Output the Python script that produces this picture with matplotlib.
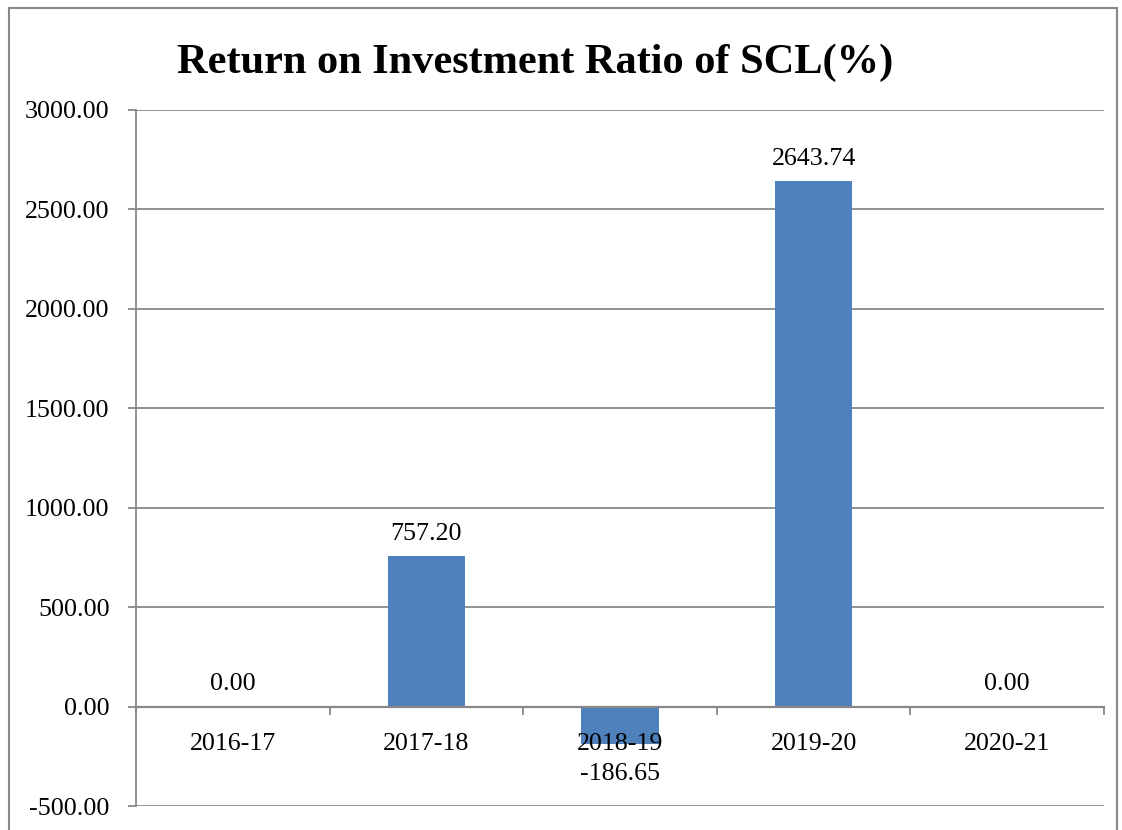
import matplotlib
matplotlib.use("Agg")
import matplotlib.pyplot as plt
from matplotlib.patches import Rectangle
from matplotlib.ticker import FixedLocator, NullFormatter

categories = ["2016-17", "2017-18", "2018-19", "2019-20", "2020-21"]
values = [0.00, 757.20, -186.65, 2643.74, 0.00]
labels = ["0.00", "757.20", "-186.65", "2643.74", "0.00"]
yticks = [-500, 0, 500, 1000, 1500, 2000, 2500, 3000]

plt.rcParams['font.family'] = ['Liberation Serif', 'DejaVu Serif']

W, H = 1122, 830
fig = plt.figure(figsize=(W / 100, H / 100), dpi=100)
ax = fig.add_axes([136 / W, 1 - 806 / H, (1104 - 136) / W, (806 - 110) / H])

gray = "#888888"
blue = "#4f81bd"

x = list(range(len(categories)))
ax.bar(x, values, width=0.4, color=blue, zorder=3)

ax.set_xlim(-0.5, len(categories) - 0.5)
ax.set_ylim(-500, 3000)
ax.set_yticks(yticks)
ax.set_yticklabels([f"{v:.2f}" for v in yticks], fontsize=18.7)
ax.yaxis.grid(True, color=gray, linewidth=1.3, zorder=0)
ax.tick_params(axis='y', length=6, width=1.3, color=gray, pad=13)

ax.spines['bottom'].set_position(('data', 0))
ax.spines['bottom'].set_color(gray)
ax.spines['bottom'].set_linewidth(1.6)
ax.spines['bottom'].set_zorder(4)
ax.spines['left'].set_color(gray)
ax.spines['left'].set_linewidth(1.3)
ax.spines['top'].set_visible(False)
ax.spines['right'].set_visible(False)

ax.set_xticks(x)
ax.set_xticklabels(categories, fontsize=18.7)
ax.tick_params(axis='x', which='major', length=0, pad=19)
ax.xaxis.set_minor_locator(FixedLocator([i - 0.5 for i in range(len(categories) + 1)]))
ax.xaxis.set_minor_formatter(NullFormatter())
ax.tick_params(axis='x', which='minor', length=6, width=1.3, color=gray, direction='out')
ax.xaxis.set_zorder(5)

for xi, v, lab in zip(x, values, labels):
    if v >= 0:
        ax.annotate(lab, (xi, v), xytext=(0, 8), textcoords='offset points',
                    ha='center', va='bottom', fontsize=18.7)
    else:
        ax.annotate(lab, (xi, v), xytext=(0, -14), textcoords='offset points',
                    ha='center', va='top', fontsize=18.7)

fig.text(535 / W, 1 - 63 / H, "Return on Investment Ratio of SCL(%)",
         ha='center', va='center', fontsize=30.5, fontweight='bold')

fig.patches.append(Rectangle((9 / W, -0.1), (1117 - 9) / W, 1.1 - 8 / H,
                             transform=fig.transFigure, fill=False,
                             edgecolor=gray, linewidth=1.5))

fig.savefig("out.png", dpi=100)
